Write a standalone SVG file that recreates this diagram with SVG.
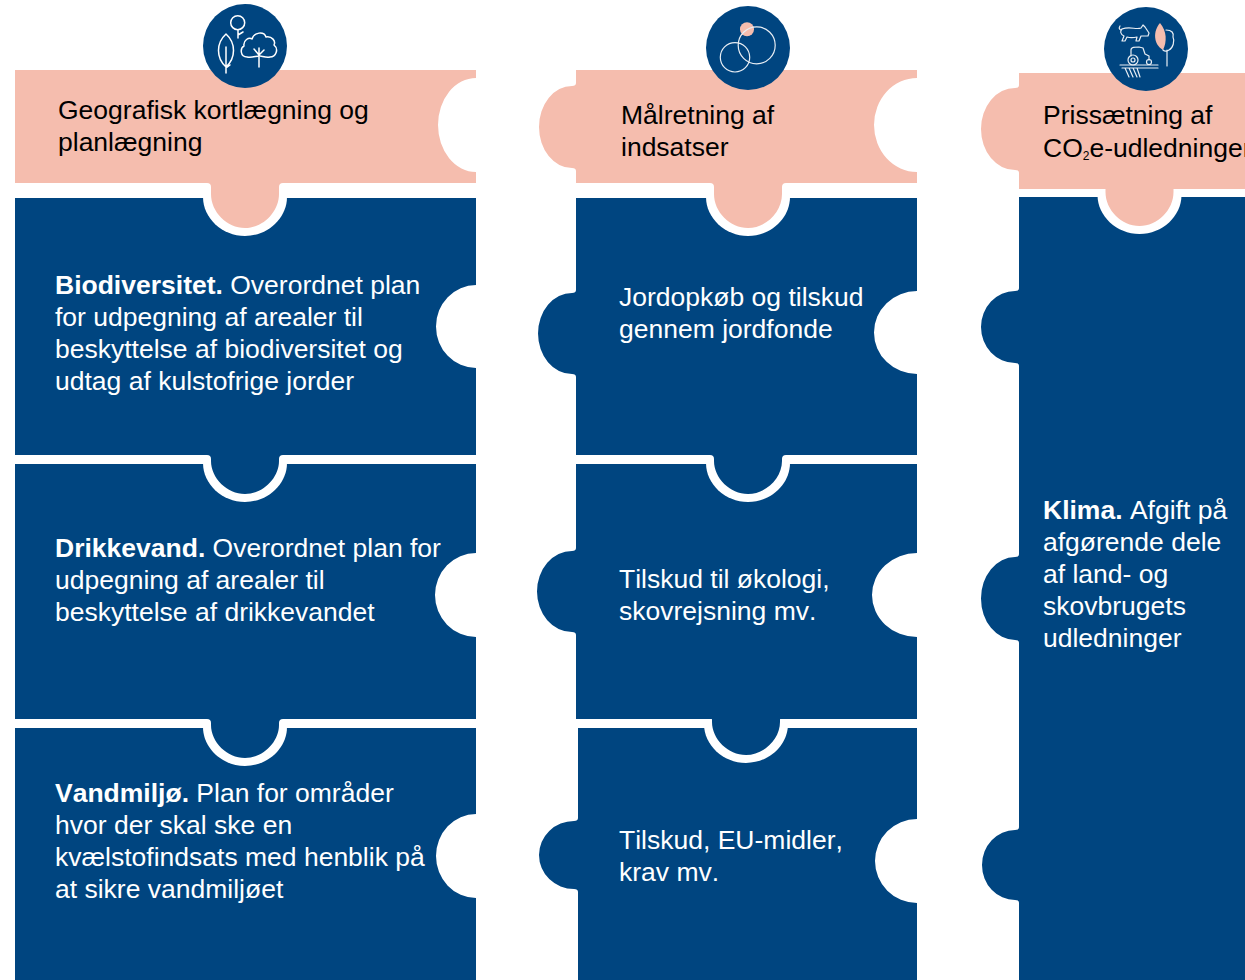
<svg xmlns="http://www.w3.org/2000/svg" width="1245" height="980" viewBox="0 0 1245 980">
<style>
text{font-family:"Liberation Sans",Arial,sans-serif;font-size:26.5px;font-kerning:none}
.b{fill:#004580}.p{fill:#F5BDAE}.w{fill:#fff}
.tw{fill:#fff}.tk{fill:#000}
.bold{font-weight:700}
.ic{fill:none;stroke:#fff;stroke-width:1.5;stroke-linecap:round;stroke-linejoin:round}
.ic2{fill:none;stroke:#e8eef4;stroke-width:1.2;stroke-linecap:round;stroke-linejoin:round}
</style>
<defs>
<path id="ring" d="M-42,-1C-42,20 -23,38 0,38C23,38 42,20 42,-1Z"/>
<path id="tabH" d="M-38,-15Q-34,-15 -34,-11V-4C-34,14 -18,30 0,30C18,30 34,14 34,-4V-11Q34,-15 38,-15Z"/>
<path id="tabB" d="M-38,-9Q-34,-9 -34,-5V-3C-34,14 -18,30 0,30C18,30 34,14 34,-3V-5Q34,-9 38,-9Z"/>
</defs>
<rect width="1245" height="980" fill="#fff"/>

<g id="col1-body1">
<path class="b" d="M15,198H476V285A40,41.5 0 0 0 476,368V455H15Z"/>
<text class="tw" x="55" y="294"><tspan class="bold">Biodiversitet.</tspan> Overordnet plan</text>
<text class="tw" x="55" y="326">for udpegning af arealer til</text>
<text class="tw" x="55" y="358">beskyttelse af biodiversitet og</text>
<text class="tw" x="55" y="390">udtag af kulstofrige jorder</text>
</g>
<g id="col1-body2">
<path class="b" d="M15,464H476V553A41,42 0 0 0 476,637V719H15Z"/>
<use href="#ring" class="w" x="245" y="464"/><use href="#tabB" class="b" x="245" y="464"/>
<text class="tw" x="55" y="557"><tspan class="bold">Drikkevand.</tspan> Overordnet plan for</text>
<text class="tw" x="55" y="589">udpegning af arealer til</text>
<text class="tw" x="55" y="621">beskyttelse af drikkevandet</text>
</g>
<g id="col1-body3">
<path class="b" d="M15,728H476V814A40,42 0 0 0 476,898V980H15Z"/>
<use href="#ring" class="w" x="245" y="728"/><use href="#tabB" class="b" x="245" y="728"/>
<text class="tw" x="55" y="802"><tspan class="bold">Vandmiljø.</tspan> Plan for områder</text>
<text class="tw" x="55" y="834">hvor der skal ske en</text>
<text class="tw" x="55" y="866">kvælstofindsats med henblik på</text>
<text class="tw" x="55" y="898">at sikre vandmiljøet</text>
</g>
<g id="col1-header">
<path class="p" d="M15,70H476V78A38,47 0 0 0 476,172V183H15Z"/>
<use href="#ring" class="w" x="245" y="198"/><use href="#tabH" class="p" x="245" y="198"/>
<text class="tk" x="58" y="119">Geografisk kortlægning og</text>
<text class="tk" x="58" y="151">planlægning</text>
</g>
<g id="col1-icon">
<circle class="b" cx="245" cy="46" r="42"/>
<circle class="ic" cx="237.7" cy="22.7" r="7"/>
<path class="ic" d="M238,30V38M238,35L243,32"/>
<path class="ic" d="M226,34C216,43 216,58 226,67C236,58 236,43 226,34ZM226,47V73M226,68L230,65"/>
<path class="ic" d="M247,57C240,57 240,48 244,46C243,40 249,37 252,39C254,32 264,31 266,37C272,36 276,41 274,45C279,49 276,57 270,57C266,58 262,56 260,56C256,56 252,58 247,57ZM259,48V67M259,55L254,49M259,55L264,50"/>
</g>

<g id="col2-body1">
<path class="b" d="M576,198H917V291A43,41.5 0 0 0 917,374V455H576V377Q576,374 572,374A34,40.5 0 0 1 572,293Q576,293 576,290Z"/>
<text class="tw" x="619" y="306">Jordopkøb og tilskud</text>
<text class="tw" x="619" y="338">gennem jordfonde</text>
</g>
<g id="col2-body2">
<path class="b" d="M576,464H917V553A45,42 0 0 0 917,637V719H576V635Q576,632 572,632A35,40.5 0 0 1 572,551Q576,551 576,548Z"/>
<use href="#ring" class="w" x="748" y="464"/><use href="#tabB" class="b" x="748" y="464"/>
<text class="tw" x="619" y="588">Tilskud til økologi,</text>
<text class="tw" x="619" y="620">skovrejsning mv.</text>
</g>
<g id="col2-body3">
<path class="b" d="M578,728H917V819A42,42 0 0 0 917,903V980H578V892Q578,889 574,889A35,34 0 0 1 574,821Q578,821 578,818Z"/>
<use href="#ring" class="w" x="746" y="725"/><use href="#tabB" class="b" x="746" y="725"/>
<text class="tw" x="619" y="849">Tilskud, EU-midler,</text>
<text class="tw" x="619" y="881">krav mv.</text>
</g>
<g id="col2-header">
<path class="p" d="M576,70H917V78A43,47 0 0 0 917,172V183H576V171Q576,168 572,168A33,41 0 0 1 572,86Q576,86 576,83Z"/>
<use href="#ring" class="w" x="748" y="198"/><use href="#tabH" class="p" x="748" y="198"/>
<text class="tk" x="621" y="124">Målretning af</text>
<text class="tk" x="621" y="156">indsatser</text>
</g>
<g id="col2-icon">
<circle class="b" cx="748" cy="48" r="42"/>
<circle class="p" cx="747" cy="29.3" r="7"/>
<circle class="ic2" cx="756.7" cy="45.3" r="18.5"/>
<circle class="ic2" cx="735" cy="57.3" r="14.7"/>
</g>

<g id="col3-body">
<path class="b" d="M1019,197H1245V980H1019V903Q1019,900 1015,900A33,35 0 0 1 1015,830Q1019,830 1019,827V643Q1019,640 1015,640A34,41.5 0 0 1 1015,557Q1019,557 1019,554V366Q1019,363 1015,363A34,36 0 0 1 1015,291Q1019,291 1019,288Z"/>
<text class="tw" x="1043" y="519"><tspan class="bold">Klima.</tspan> Afgift på</text>
<text class="tw" x="1043" y="551">afgørende dele</text>
<text class="tw" x="1043" y="583">af land- og</text>
<text class="tw" x="1043" y="615">skovbrugets</text>
<text class="tw" x="1043" y="647">udledninger</text>
</g>
<g id="col3-header">
<path class="p" d="M1019,73H1245V189H1019V173Q1019,170 1015,170A34,41 0 0 1 1015,88Q1019,88 1019,85Z"/>
<use href="#ring" class="w" x="1139.500" y="196"/><use href="#tabH" class="p" x="1139.500" y="196"/>
<text class="tk" x="1043" y="124">Prissætning af</text>
<text class="tk" x="1043" y="157">CO<tspan font-size="12" dy="3">2</tspan><tspan dy="-3">e-udledninger</tspan></text>
</g>
<g id="col3-icon">
<circle class="b" cx="1146" cy="49" r="42"/>
<path class="p" d="M1160,23C1153,31 1153,44 1163,50C1167,42 1167,31 1160,23Z"/>
<path class="ic2" d="M1120,26C1118,29 1121,31 1122,29C1130,26 1136,30 1141,28L1143,25L1145,27L1149,33L1148,36L1144,36L1141,36L1139,41H1136L1137,37C1133,38 1130,38 1127,37L1125,41H1122L1124,36C1120,34 1120,31 1122,29"/>
<path class="ic2" d="M1166,30C1172,30 1174,33 1173,37C1175,41 1173,48 1169,50C1166,52 1164,51 1163,50M1167,50V66"/>
<path class="ic2" d="M1131,56V50C1131,47 1135,47 1139,47L1143,48L1145,54L1149,56V60"/>
<circle class="ic2" cx="1133" cy="60" r="5"/><circle class="ic2" cx="1133" cy="60" r="2"/><circle class="ic2" cx="1149" cy="62" r="2.500"/>
<path class="ic2" d="M1120,65H1158M1122,68H1158M1125,68L1129,77M1129,68L1133,77M1133,68L1137,77M1137,68L1140,77"/>
</g>
</svg>
